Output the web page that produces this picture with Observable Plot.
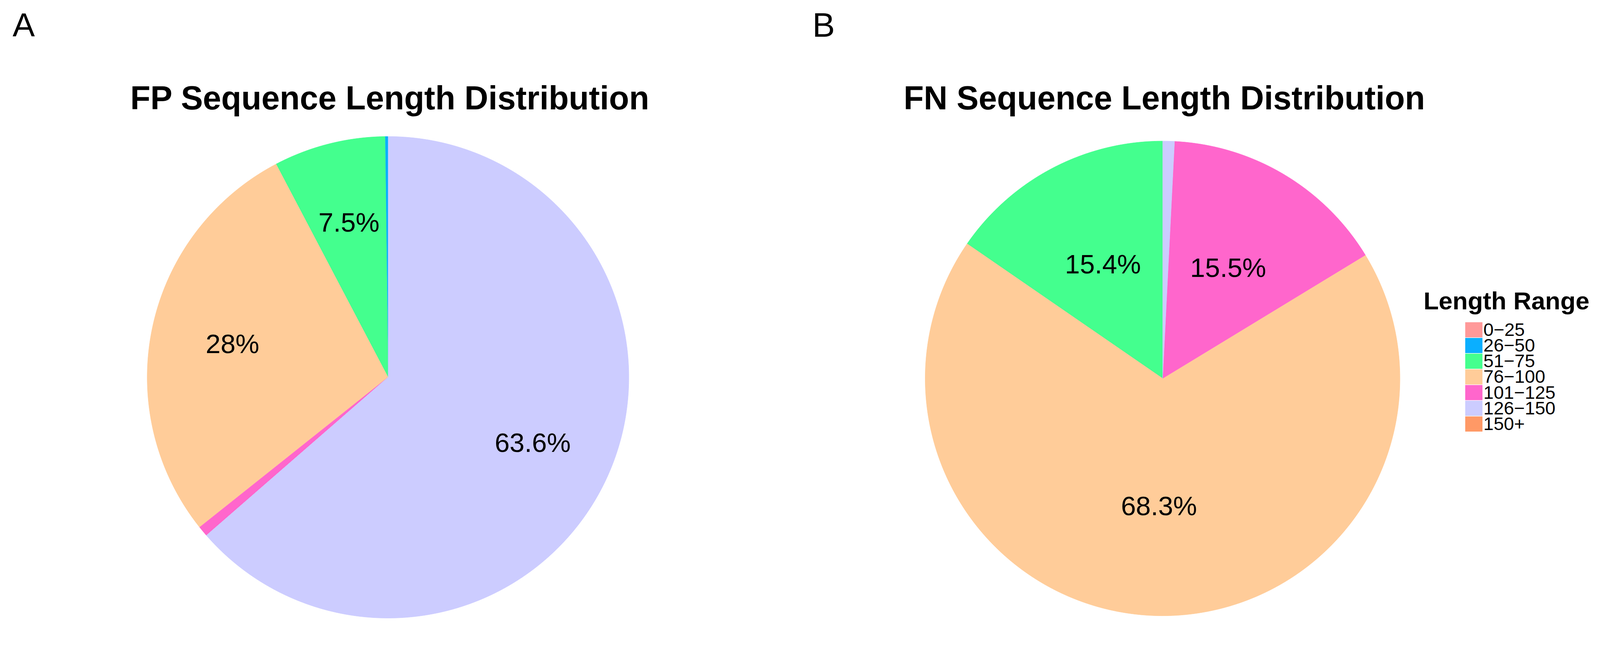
<!DOCTYPE html>
<html><head><meta charset="utf-8">
<script src="https://cdn.jsdelivr.net/npm/d3@7"></script>
<script src="https://cdn.jsdelivr.net/npm/@observablehq/plot@0.6"></script>
<style>
html,body{margin:0;padding:0;background:#fff;overflow:hidden;}
#root{position:absolute;left:0;top:0;width:4179px;height:1659px;background:#fff;overflow:hidden;font-family:"Liberation Sans",Arial,sans-serif;color:#000;transform-origin:0 0;}
.abs{position:absolute;line-height:1;white-space:nowrap;}
.abs svg{display:block;max-width:none !important;}
</style></head><body><div id="root"></div>
<script>
// ---- data ----
const categories = ["0−25", "26−50", "51−75", "76−100", "101−125", "126−150", "150+"];
const colors = ["#FF9999", "#0AAFFF", "#44FF8E", "#FFCC99", "#FF66CC", "#CCCCFF", "#FF9966"];
const fpValues = [0, 0.2, 7.5, 28, 0.7, 63.6, 0];
const fnValues = [0, 0, 15.4, 68.3, 15.5, 0.8, 0];
const titles = ["FP Sequence Length Distribution", "FN Sequence Length Distribution"];
const panelLetters = ["A", "B"];
const legendTitle = "Length Range";

const FONT = '"Liberation Sans", Arial, sans-serif';
const root = document.getElementById("root");
function fit() {
  const s = Math.min(window.innerWidth / 4179, window.innerHeight / 1659);
  root.style.transform = `scale(${s})`;
}
fit();
window.addEventListener("resize", fit);

function place(node, left, top, w) {
  const d = document.createElement("div");
  d.className = "abs";
  d.style.left = left + "px";
  d.style.top = top + "px";
  d.style.width = w + "px";
  d.appendChild(node);
  root.appendChild(d);
  return d;
}
function textDiv(txt, {left, top, size, weight = "normal", width = null}) {
  const d = document.createElement("div");
  d.className = "abs";
  d.textContent = txt;
  d.style.fontSize = size + "px";
  d.style.fontWeight = weight;
  d.style.top = top + "px";
  if (width != null) { d.style.left = (left - width / 2) + "px"; d.style.width = width + "px"; d.style.textAlign = "center"; }
  else d.style.left = left + "px";
  root.appendChild(d);
}

function pieChart(values, {width, height, cx, cy, R, labelR}) {
  const data = categories.map((c, i) => ({cat: c, value: values[i]}));
  const arcs = d3.pie().value(d => d.value).sort(null).startAngle(0).endAngle(-2 * Math.PI)(data);
  const pts = [];
  for (const a of arcs) {
    if (a.data.value <= 0) continue;
    const span = a.endAngle - a.startAngle;
    const n = Math.max(3, Math.ceil(Math.abs(span) / (2 * Math.PI) * 1440));
    pts.push({cat: a.data.cat, x: 0, y: 0});
    for (let k = 0; k <= n; k++) {
      const t = a.startAngle + span * k / n;
      pts.push({cat: a.data.cat, x: Math.sin(t), y: Math.cos(t)});
    }
  }
  const labels = arcs.filter(a => a.data.value >= 1).map(a => {
    const m = (a.startAngle + a.endAngle) / 2;
    return {x: labelR * Math.sin(m), y: labelR * Math.cos(m), text: `${+a.data.value.toFixed(1)}%`};
  });
  return Plot.plot({
    width, height,
    marginLeft: cx - R, marginRight: width - cx - R,
    marginTop: cy - R, marginBottom: height - cy - R,
    x: {domain: [-1, 1], axis: null},
    y: {domain: [-1, 1], axis: null},
    color: {domain: categories, range: colors},
    style: {fontFamily: FONT, background: "transparent", overflow: "visible", color: "#000", maxWidth: "none"},
    marks: [
      Plot.line(pts, {x: "x", y: "y", z: "cat", fill: "cat", stroke: "cat", strokeWidth: 1, curve: "linear"}),
      Plot.text(labels, {x: "x", y: "y", text: "text", fontSize: 70, fill: "#000"})
    ]
  });
}

// Pie A
const chartA = pieChart(fpValues, {width: 2030, height: 1659, cx: 1013, cy: 985, R: 629, labelR: 0.66});
place(chartA, 0, 0, 2030);
// Pie B
const chartB = pieChart(fnValues, {width: 1650, height: 1659, cx: 1006, cy: 988, R: 620, labelR: 0.54});
place(chartB, 2030, 0, 1650);

// Panel letters
textDiv(panelLetters[0], {left: 33, top: 21, size: 87});
textDiv(panelLetters[1], {left: 2122, top: 22, size: 88});
// Titles
textDiv(titles[0], {left: 1018, top: 213, size: 86, weight: "bold", width: 2000});
textDiv(titles[1], {left: 3041, top: 213, size: 86, weight: "bold", width: 2000});

// Legend
textDiv(legendTitle, {left: 3718, top: 753, size: 65, weight: "bold"});
const legend = Plot.plot({
  width: 340, height: 291,
  marginLeft: 0, marginRight: 295, marginTop: 0, marginBottom: 0,
  y: {domain: categories, axis: null, padding: 0},
  color: {domain: categories, range: colors},
  style: {fontFamily: FONT, background: "transparent", overflow: "visible", color: "#000", maxWidth: "none"},
  marks: [
    Plot.cell(categories, {y: d => d, fill: d => d, insetTop: 0.7, insetBottom: 0.7}),
    Plot.text(categories, {y: d => d, text: d => d, frameAnchor: "right", textAnchor: "start", dx: 2, fontSize: 48, fill: "#000"})
  ]
});
place(legend, 3827, 839, 340);
</script></body></html>
